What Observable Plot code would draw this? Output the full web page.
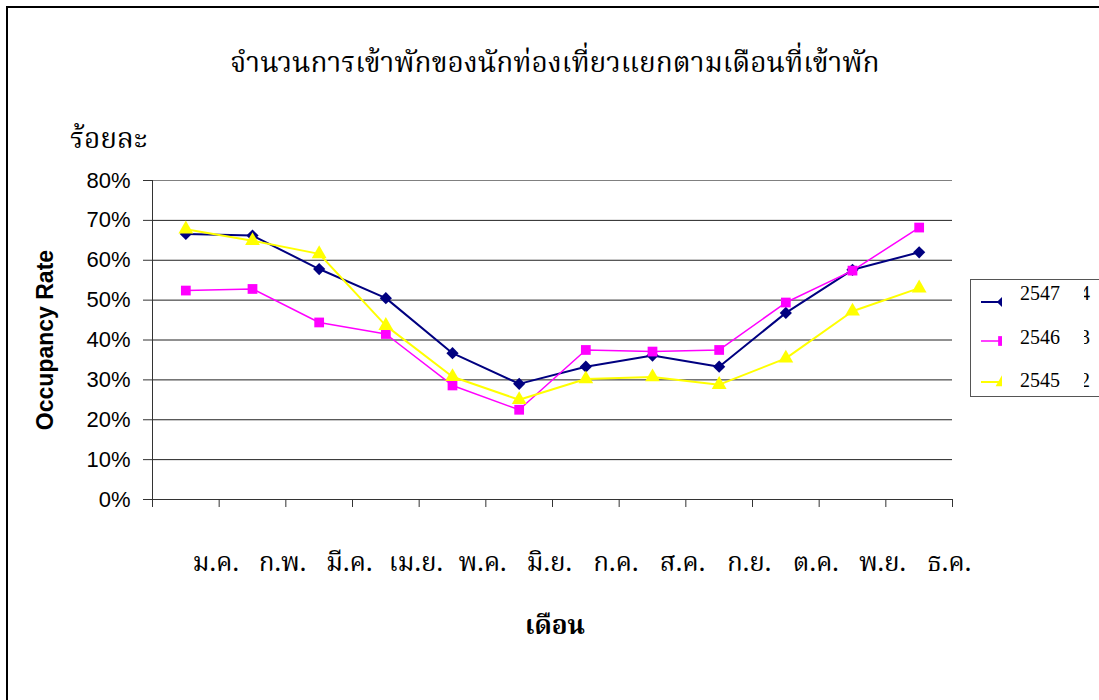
<!DOCTYPE html>
<html><head><meta charset="utf-8">
<script src="https://cdn.jsdelivr.net/npm/d3@7"></script>
<script src="https://cdn.jsdelivr.net/npm/@observablehq/plot@0.6"></script>
<style>
body{margin:0;background:#fff;}
#wrap{position:relative;width:1099px;height:700px;overflow:hidden;background:#fff;}
#wrap svg.plot{position:absolute;left:0;top:0;}
.frame{position:absolute;left:6px;top:6px;width:1200px;height:800px;border-left:2px solid #000;border-top:2px solid #000;box-sizing:border-box;}
.thai{font-family:"Noto Serif Thai","Noto Sans Thai","TH Sarabun New","Norasi","Garuda","Loma","DejaVu Serif","DejaVu Sans",serif;color:#000;position:absolute;white-space:nowrap;}
#title{left:0;width:1110px;text-align:center;top:42px;font-size:28px;}
#ylab2{left:70px;top:118px;font-size:28px;}
#xtitle{left:0;width:1110px;text-align:center;top:606px;font-size:26px;font-weight:bold;}
#legend{position:absolute;left:970px;top:279px;width:129px;height:118px;border:1px solid #555;border-right:none;box-sizing:border-box;background:#fff;overflow:hidden;}
#legend .cover{position:absolute;left:31px;top:-3px;width:82px;height:124px;background:#fff;}
#legend .lbl{position:absolute;left:49px;font-family:"Liberation Serif","Times New Roman",serif;font-size:20px;}
#legend .frag{position:absolute;left:109px;font-family:"Liberation Serif","Times New Roman",serif;font-size:20px;}
#legend svg{position:absolute;left:0;}
</style></head>
<body>
<div id="wrap">
  <div class="frame"></div>
  <div id="title" class="thai">จำนวนการเข้าพักของนักท่องเที่ยวแยกตามเดือนที่เข้าพัก</div>
  <div id="ylab2" class="thai">ร้อยละ</div>
  <div id="xtitle" class="thai">เดือน</div>
  <div id="legend"></div>
</div>
<script>
const months = ["ม.ค.","ก.พ.","มี.ค.","เม.ย.","พ.ค.","มิ.ย.","ก.ค.","ส.ค.","ก.ย.","ต.ค.","พ.ย.","ธ.ค."];
const seriesNames = ["2547","2546","2545"];
const legendFragments = ["4","3","2"];
const values2547 = [66.6,66.2,57.8,50.5,36.7,29.0,33.3,36.1,33.3,46.8,57.6,62.0];
const values2546 = [52.4,52.8,44.4,41.5,28.6,22.5,37.5,37.1,37.5,49.4,57.4,68.2];
const values2545 = [67.8,64.9,61.6,43.6,30.8,25.0,30.2,30.7,28.8,35.4,47.2,53.0];
const seriesColors = ["#000080","#FF00FF","#FFFF00"];
const seriesSymbols = ["diamond2","square","triangle"];
const seriesWidths = [2,1.5,2];
const yTickValues = [0,0.1,0.2,0.3,0.4,0.5,0.6,0.7,0.8];
const yAxisTitle = "Occupancy Rate";

const allValues = [values2547, values2546, values2545];
const rows = [];
seriesNames.forEach((s, si) => allValues[si].forEach((v, i) => rows.push({series: s, idx: i, month: months[i], value: v / 100})));

const thaiFont = '"Noto Serif Thai","Noto Sans Thai","TH Sarabun New","Norasi","Garuda","Loma","DejaVu Serif","DejaVu Sans",serif';

const marks = [
  Plot.ruleY(yTickValues.filter(t => t > 0 && t < 0.8), {stroke: "#222", strokeWidth: 1}),
  Plot.ruleY(yTickValues.filter(t => t === 0.8), {stroke: "#808080", strokeWidth: 1}),
  Plot.ruleX([-0.5], {stroke: "#333", strokeWidth: 1}),
  Plot.ruleY([0], {stroke: "#333", strokeWidth: 1}),
  Plot.axisY({ticks: yTickValues, tickFormat: d3.format(".0%"), tickSize: 9, tickPadding: 13, label: null, fontSize: 22, fontFamily: '"Liberation Sans", Arial, sans-serif', stroke: "#333"}),
  Plot.axisX({ticks: d3.range(months.length + 1).map(i => i - 0.5), tickFormat: () => "", tickSize: 8, label: null, stroke: "#333"}),
  Plot.text(months, {x: (d, i) => i, frameAnchor: "bottom", dy: 71, dx: 30, fontSize: 26, fontFamily: thaiFont, fill: "#000"}),
  Plot.text([yAxisTitle], {frameAnchor: "left", textAnchor: "middle", rotate: -90, dx: -107, fontSize: 23, fontWeight: "bold", fontFamily: '"Liberation Sans", Arial, sans-serif', fill: "#000"})
];
seriesNames.forEach((s, si) => {
  const data = rows.filter(r => r.series === s);
  marks.push(Plot.line(data, {x: "idx", y: "value", stroke: seriesColors[si], strokeWidth: seriesWidths[si]}));
  marks.push(Plot.dot(data, {x: "idx", y: "value", fill: seriesColors[si], symbol: () => seriesSymbols[si], r: 5.5, stroke: "none"}));
});

const plot = Plot.plot({
  width: 1099, height: 700,
  marginLeft: 152, marginRight: 147, marginTop: 180, marginBottom: 201,
  x: {type: "linear", domain: [-0.5, months.length - 0.5], axis: null},
  y: {domain: [0, 0.8], axis: null},
  symbol: {type: "identity"},
  style: {background: "transparent", color: "#000", overflow: "visible"},
  marks
});
plot.classList.add("plot");
const wrap = document.getElementById("wrap");
wrap.insertBefore(plot, wrap.firstChild);

// Legend
const d3Symbols = {diamond2: d3.symbolDiamond2, square: d3.symbolSquare, triangle: d3.symbolTriangle};
const legend = d3.select("#legend");
const rowTops = [22, 61, 102];
const textTops = [2, 46, 89];
seriesNames.forEach((s, si) => {
  const svg = legend.append("svg").attr("width", 44).attr("height", 24).style("top", (rowTops[si] - 12) + "px");
  svg.append("line").attr("x1", 10).attr("x2", 32).attr("y1", 12).attr("y2", 12).attr("stroke", seriesColors[si]).attr("stroke-width", seriesWidths[si]);
  svg.append("path").attr("transform", "translate(32,12)").attr("d", d3.symbol(d3Symbols[seriesSymbols[si]], 95)()).attr("fill", seriesColors[si]);
  legend.append("div").attr("class", "frag").style("top", textTops[si] + "px").text(legendFragments[si]);
});
legend.append("div").attr("class", "cover");
seriesNames.forEach((s, si) => {
  legend.append("div").attr("class", "lbl").style("top", textTops[si] + "px").text(s);
});
</script>
</body></html>
